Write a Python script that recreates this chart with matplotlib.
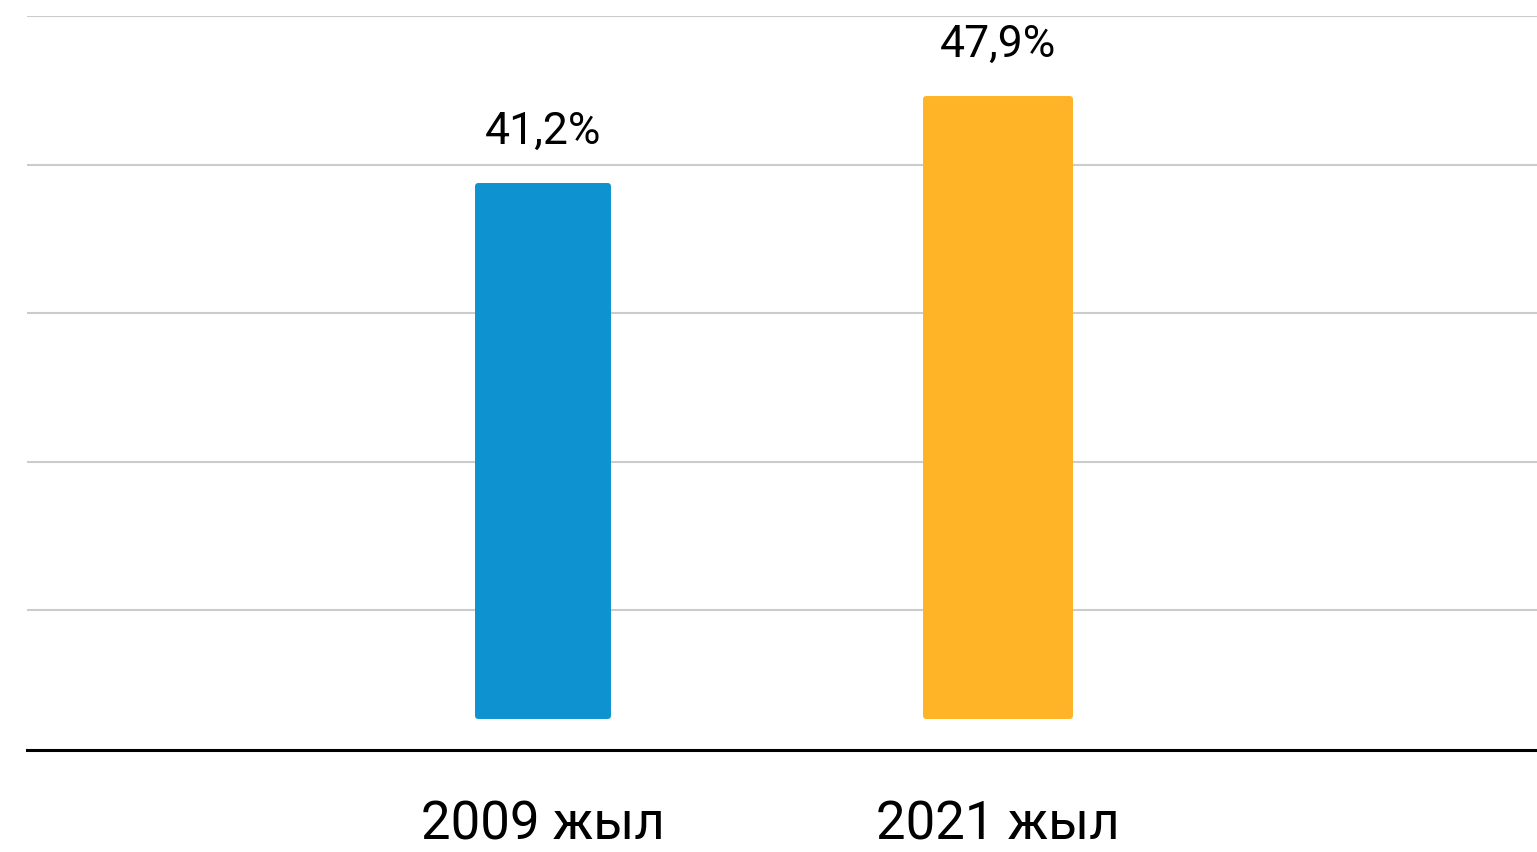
import numpy as np
import matplotlib
matplotlib.use("Agg")
import matplotlib.pyplot as plt
from matplotlib.transforms import blended_transform_factory

# data
years = ["2009 жыл", "2021 жыл"]
shares = [41.2, 47.9]
value_labels = ["41,2%", "47,9%"]
bar_colors = ["#0E93D0", "#FFB327"]
bar_widths = [0.299, 0.330]

plt.rcParams['font.family'] = ['Roboto', 'DejaVu Sans']

W, H = 1537, 853
fig = plt.figure(figsize=(W / 100, H / 100), dpi=100)
# axes: baseline at y=751 px, top gridline at y=17 px, from x=27 to right edge
ax = fig.add_axes([27 / W, (H - 751) / H, 1 - 27 / W, (751 - 17) / H])

px_y = 13.0      # pixels per percent
px_x = 455.0     # pixels per category step
ymin = -31 / px_y
ymax = (720 - 17) / px_y
ax.set_ylim(ymin, ymax)
ax.set_xlim((27 - 543) / px_x, (1537 - 543) / px_x)

# horizontal gridlines (5 lines, 148.5 px apart, starting at the top)
grid_step = 148.5 / px_y
for g in ymax - grid_step * np.arange(5):
    ax.axhline(g, color="#cccccc", lw=1.5, zorder=0)

# bars with slightly rounded corners (round-joined edge of the same colour)
pad_x = 3 / px_x
pad_y = 3 / px_y
x = np.arange(len(years))
for i in range(len(years)):
    ax.bar(x[i], shares[i] - 2 * pad_y, bottom=pad_y,
           width=bar_widths[i] - 2 * pad_x,
           color=bar_colors[i], edgecolor=bar_colors[i],
           linewidth=4.3, joinstyle="round", zorder=2)
    ax.annotate(value_labels[i], xy=(x[i], shares[i]), xytext=(0, 29),
                textcoords="offset points", ha="center", va="baseline",
                fontsize=32, color="black")

# category labels below the baseline
trans = blended_transform_factory(ax.transData, ax.transAxes)
for i in range(len(years)):
    ax.annotate(years[i], xy=(x[i], 0), xycoords=trans, xytext=(0, -64),
                textcoords="offset points", ha="center", va="baseline",
                fontsize=38, color="black", annotation_clip=False)

ax.axhline(ymin, color="black", lw=2.2, zorder=3, clip_on=False)
ax.set_xticks([])
ax.set_yticks([])
for s in ax.spines.values():
    s.set_visible(False)

fig.savefig("out.png", dpi=100)
